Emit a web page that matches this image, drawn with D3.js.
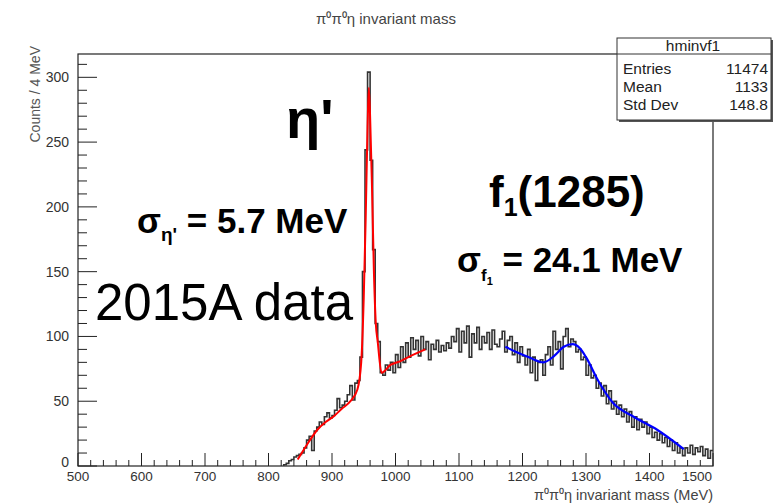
<!DOCTYPE html>
<html>
<head>
<meta charset="utf-8">
<script src="https://cdn.jsdelivr.net/npm/d3@7"></script>
<style>
  body { margin: 0; background: #fff; }
  text { font-family: "Liberation Sans", Arial, sans-serif; }
</style>
</head>
<body>
<svg id="svg1" width="773" height="503"></svg>
<script>
// histogram: 4 MeV bins, first bin starts at binStart
var binStart = 824;
var binWidth = 4;
var counts = [1, 2, 4, 5, 7, 8, 9,
  10, 14, 20, 23, 12, 27, 30, 34, 32, 38, 41, 37, 39, 43, 52, 45, 47, 50, 55, 62, 51, 64,
  66, 84, 150, 244, 304, 236, 167, 110, 96, 72,
  70, 78, 74, 80, 72, 86, 76, 92, 80, 95, 84, 99, 90, 97, 85, 100, 90, 96, 82, 94,
  90, 97, 88, 93, 89, 95, 91, 100, 96, 106, 88, 104, 95, 108, 84, 102, 95, 107, 90, 100,
  95, 103, 90, 105, 94, 92, 98, 104, 88, 97, 100, 86, 95, 80, 92, 85, 78, 90, 72, 84,
  66, 80, 82, 70, 86, 92, 78, 104, 90, 96, 75, 100, 106, 92, 98, 96, 88, 90, 82, 84,
  70, 78, 68, 70, 60, 64, 54, 62, 48, 58, 44, 50, 40, 47, 38, 44, 34, 42, 30, 38,
  28, 36, 30, 34, 25, 30, 22, 26, 20, 25, 18, 22, 15, 20, 12, 18, 10, 14, 8, 14,
  10, 16, 9, 14, 11, 15, 8, 13, 6, 12];

// eta' fit (red) and f1(1285) fit (blue)
var redMass = [846, 860, 877, 890, 902, 915, 929, 940, 946, 950, 953, 956, 958, 960, 963, 966, 969, 972, 978, 992, 1008, 1024, 1047];
var redFit  = [5, 16, 28, 34, 38, 44, 50, 59, 80, 130, 190, 262, 292, 270, 215, 150, 110, 96, 72, 78, 81, 85, 90];
var blueMass = [1173, 1190, 1210, 1233, 1250, 1265, 1279, 1290, 1300, 1319, 1342, 1375, 1412, 1454];
var blueFit  = [92, 88, 84, 80, 85, 92, 94, 91, 84, 66, 49, 38, 28, 13];

var xTicks = [500, 600, 700, 800, 900, 1000, 1100, 1200, 1300, 1400, 1500];
var yTicks = [0, 50, 100, 150, 200, 250, 300];
var statNames = ["Entries", "Mean", "Std Dev"];
var statValues = ["11474", "1133", "148.8"];

function drawChart() {
  var svg = d3.select("#svg1");
  var fLeft = 78, fRight = 713, fTop = 54, fBottom = 466;

  var x = d3.scaleLinear().domain([500, 1500]).range([fLeft, fRight]);
  var y = d3.scaleLinear().domain([0, 318]).range([fBottom, fTop]);

  // title
  svg.append("text")
    .attr("x", 386).attr("y", 24)
    .attr("text-anchor", "middle")
    .attr("font-size", "15px")
    .attr("fill", "#444")
    .text("π⁰π⁰η invariant mass");

  // frame
  svg.append("rect")
    .attr("x", fLeft).attr("y", fTop)
    .attr("width", fRight - fLeft).attr("height", fBottom - fTop)
    .attr("fill", "none").attr("stroke", "#222").attr("stroke-width", 1.2);

  var g = svg.append("g");

  // x ticks (inside, pointing up)
  var xMinor = d3.range(500, 1501, 20);
  g.selectAll(".xminor").data(xMinor).enter().append("line")
    .attr("x1", function(d) { return x(d); }).attr("x2", function(d) { return x(d); })
    .attr("y1", fBottom).attr("y2", function(d) { return d % 100 === 0 ? fBottom - 13 : fBottom - 6; })
    .attr("stroke", "#222").attr("stroke-width", 1);

  g.selectAll(".xlab").data(xTicks).enter().append("text")
    .attr("x", function(d) { return d === 1500 ? x(d) - 16 : x(d); })
    .attr("y", 481)
    .attr("text-anchor", "middle")
    .attr("font-size", "13.5px")
    .attr("fill", "#333")
    .text(function(d) { return d; });

  // y ticks (inside, pointing right)
  var yMinor = d3.range(0, 311, 10);
  g.selectAll(".yminor").data(yMinor).enter().append("line")
    .attr("y1", function(d) { return y(d); }).attr("y2", function(d) { return y(d); })
    .attr("x1", fLeft).attr("x2", function(d) { return d % 50 === 0 ? fLeft + 19 : fLeft + 9; })
    .attr("stroke", "#222").attr("stroke-width", 1);

  g.selectAll(".ylab").data(yTicks).enter().append("text")
    .attr("x", 69)
    .attr("y", function(d) { return d === 0 ? y(d) + 1 : y(d) + 5; })
    .attr("text-anchor", "end")
    .attr("font-size", "14px")
    .attr("fill", "#333")
    .text(function(d) { return d; });

  // axis titles
  svg.append("text")
    .attr("transform", "translate(40,46) rotate(-90)")
    .attr("text-anchor", "end")
    .attr("font-size", "14px")
    .attr("fill", "#555")
    .text("Counts / 4 MeV");

  svg.append("text")
    .attr("x", 713).attr("y", 500)
    .attr("text-anchor", "end")
    .attr("font-size", "14.5px")
    .attr("fill", "#444")
    .text("π⁰π⁰η invariant mass (MeV)");

  // histogram as steps
  var pts = [[binStart, 0]];
  counts.forEach(function(c, i) {
    var lo = binStart + i * binWidth;
    pts.push([lo, c]);
    pts.push([lo + binWidth, c]);
  });
  var hline = d3.line()
    .x(function(d) { return x(d[0]); })
    .y(function(d) { return y(d[1]); });

  g.append("path")
    .datum(pts)
    .attr("d", hline)
    .attr("fill", "none")
    .attr("stroke", "#333")
    .attr("stroke-width", 1.6);

  // fits
  var fline = d3.line()
    .x(function(d) { return x(d[0]); })
    .y(function(d) { return y(d[1]); })
    .curve(d3.curveMonotoneX);

  g.append("path")
    .datum(redMass.map(function(m, i) { return [m, redFit[i]]; }))
    .attr("d", fline)
    .attr("fill", "none").attr("stroke", "#ff0000").attr("stroke-width", 2);

  g.append("path")
    .datum(blueMass.map(function(m, i) { return [m, blueFit[i]]; }))
    .attr("d", fline)
    .attr("fill", "none").attr("stroke", "#0000ff").attr("stroke-width", 2.2);

  // stats box
  var sb = svg.append("g");
  sb.append("rect").attr("x", 619).attr("y", 40).attr("width", 154).attr("height", 82).attr("fill", "#555");
  sb.append("rect").attr("x", 617).attr("y", 38).attr("width", 154).attr("height", 82)
    .attr("fill", "#fff").attr("stroke", "#333").attr("stroke-width", 1);
  sb.append("line").attr("x1", 617).attr("x2", 771).attr("y1", 54).attr("y2", 54).attr("stroke", "#333");
  sb.append("text").attr("x", 693).attr("y", 51).attr("text-anchor", "middle")
    .attr("font-size", "15.5px").attr("fill", "#222").text("hminvf1");
  statNames.forEach(function(n, i) {
    sb.append("text").attr("x", 623).attr("y", 74 + i * 18)
      .attr("font-size", "15.5px").attr("fill", "#222").text(n);
    sb.append("text").attr("x", 768).attr("y", 74 + i * 18).attr("text-anchor", "end")
      .attr("font-size", "15.5px").attr("fill", "#222").text(statValues[i]);
  });

  // annotations
  var ann = svg.append("g").attr("font-weight", "bold").attr("fill", "#000");
  ann.append("text").attr("x", 286).attr("y", 138).attr("font-size", "56px").text("η'");

  var s1 = ann.append("text").attr("x", 137).attr("y", 233).attr("font-size", "35px");
  s1.append("tspan").text("σ");
  s1.append("tspan").attr("font-size", "19px").attr("dy", 8).text("η'");
  s1.append("tspan").attr("dy", -8).text(" = 5.7 MeV");

  var f1 = ann.append("text").attr("x", 489).attr("y", 207).attr("font-size", "44px");
  f1.append("tspan").text("f");
  f1.append("tspan").attr("font-size", "25px").attr("dy", 9).text("1");
  f1.append("tspan").attr("dy", -9).text("(1285)");

  var s2 = ann.append("text").attr("x", 457).attr("y", 272).attr("font-size", "35px");
  s2.append("tspan").text("σ");
  s2.append("tspan").attr("font-size", "17px").attr("dy", 9).text("f");
  s2.append("tspan").attr("font-size", "11px").attr("dy", 4).text("1");
  s2.append("tspan").attr("dy", -13).text(" = 24.1 MeV");

  svg.append("text")
    .attr("x", 95).attr("y", 320)
    .attr("font-family", "'Noto Sans', sans-serif")
    .attr("font-size", "51px")
    .attr("fill", "#000")
    .text("2015A data");
}
drawChart();
</script>
</body>
</html>
